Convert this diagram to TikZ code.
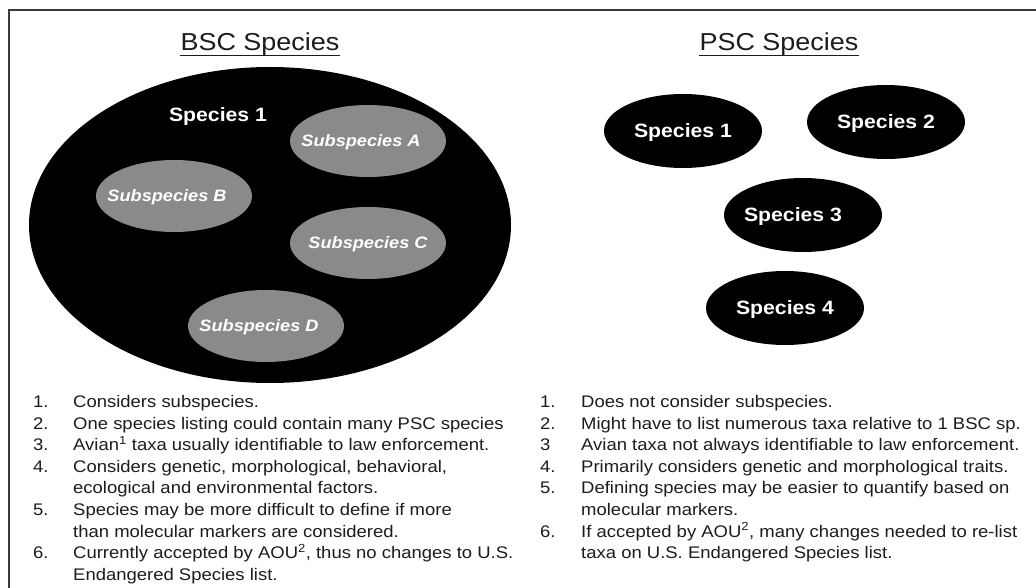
\documentclass[tikz,border=0pt]{standalone}
\usepackage{fontspec}
\setmainfont[FakeStretch=1.1]{Liberation Sans}
\usetikzlibrary{shapes.geometric}
\definecolor{subgray}{RGB}{138,138,138}
\definecolor{ink}{RGB}{28,28,28}
\definecolor{framegray}{RGB}{60,60,60}
% text that does not widen its ellipse, moved left by #1
\newcommand\shiftedtext[2]{\makebox[0pt]{\hspace*{-#1}#2}}

\begin{document}
\begin{tikzpicture}[x=1pt,y=-1pt,
    title/.style={inner sep=0pt,anchor=base,text=ink,font=\fontsize{24.5}{28}\selectfont},
    spname/.style={inner sep=0pt,text=white,font=\bfseries\fontsize{19.3}{22}\selectfont,text height=13.8pt,text depth=0pt},
    blob/.style={spname,ellipse,fill=black,minimum width=158pt,minimum height=74pt},
    subblob/.style={ellipse,fill=subgray,inner sep=0pt,minimum width=156pt,minimum height=72pt,text=white,
        font=\bfseries\itshape\fontsize{16.5}{20}\selectfont,text height=11.8pt,text depth=0pt},
    points/.style={inner sep=0pt,anchor=base west,text=ink,font=\fontsize{16.8}{21.6}\selectfont}]
\useasboundingbox (0,0) rectangle (1036,588);
\draw[framegray,line width=2pt] (9,588) -- (9,10) -- (1036,10);

% BSC side
\node[title] (bsctitle) at (260,51) {BSC Species};
\draw[ink,line width=1.6pt] ([yshift=-4.5pt]bsctitle.base west) -- ([yshift=-4.5pt]bsctitle.base east);
\node[ellipse,fill=black,inner sep=0pt,minimum width=482pt,minimum height=316pt] (bsc) at (270,225) {};
\node[spname] (bscname) at (218,115) {Species 1};
\node[subblob] (subA) at (368,141) {\shiftedtext{14pt}{Subspecies A}};
\node[subblob] (subB) at (174,196) {\shiftedtext{14pt}{Subspecies B}};
\node[subblob] (subC) at (368,243) {\shiftedtext{0pt}{Subspecies C}};
\node[subblob] (subD) at (266,326) {\shiftedtext{14pt}{Subspecies D}};

\node[points] (bsclist) at (33,407.5) {\begin{tabular}[t]{@{}p{40pt}@{}l@{}}
1. & Considers subspecies.\\
2. & One species listing could contain many PSC species\\
3. & Avian\textsuperscript{1} taxa usually identifiable to law enforcement.\\
4. & Considers genetic, morphological, behavioral,\\
   & ecological and environmental factors.\\
5. & Species may be more difficult to define if more\\
   & than molecular markers are considered.\\
6. & Currently accepted by AOU\textsuperscript{2}, thus no changes to U.S.\\
   & Endangered Species list.
\end{tabular}};

% PSC side
\node[title] (psctitle) at (779,51) {PSC Species};
\draw[ink,line width=1.6pt] ([yshift=-4.5pt]psctitle.base west) -- ([yshift=-4.5pt]psctitle.base east);
\node[blob] (psc1) at (683,131) {\shiftedtext{0pt}{Species 1}};
\node[blob] (psc2) at (886,122) {\shiftedtext{0pt}{Species 2}};
\node[blob] (psc3) at (803,215) {\shiftedtext{20pt}{Species 3}};
\node[blob] (psc4) at (785,308) {\shiftedtext{0pt}{Species 4}};

\node[points] (psclist) at (540,407.5) {\begin{tabular}[t]{@{}p{41pt}@{}l@{}}
1. & Does not consider subspecies.\\
2. & Might have to list numerous taxa relative to 1 BSC sp.\\
3  & Avian taxa not always identifiable to law enforcement.\\
4. & Primarily considers genetic and morphological traits.\\
5. & Defining species may be easier to quantify based on\\
   & molecular markers.\\
6. & If accepted by AOU\textsuperscript{2}, many changes needed to re-list\\
   & taxa on U.S. Endangered Species list.
\end{tabular}};
\end{tikzpicture}
\end{document}
